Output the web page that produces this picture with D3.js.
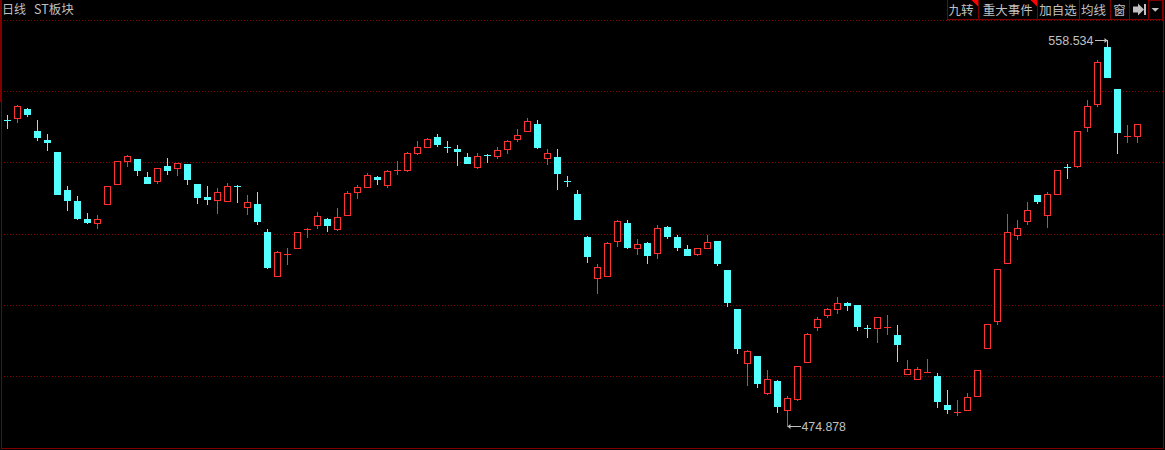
<!DOCTYPE html>
<html>
<head>
<meta charset="utf-8">
<script src="https://cdn.jsdelivr.net/npm/d3@7/dist/d3.min.js"></script>
<style>
html,body{margin:0;padding:0;background:#000;overflow:hidden}
svg{display:block}
</style>
</head>
<body>
<div id="chart"></div>
<script>
const opens = [541.23,541.45,543.61,538.85,536.90,534.31,526.09,523.71,519.82,518.73,
522.84,527.17,532.15,532.79,528.90,527.82,531.28,530.63,531.71,527.39,
524.57,523.71,523.49,526.95,522.20,523.06,517.00,507.27,512.25,513.33,
517.65,518.30,519.82,517.44,520.47,525.44,526.52,528.90,526.95,530.42,
530.20,533.88,535.17,537.55,535.39,534.96,533.23,530.85,533.66,533.23,
534.74,536.90,538.63,540.36,532.79,533.23,528.04,525.22,515.92,506.84,
507.27,514.84,518.95,513.33,514.62,512.25,518.09,515.92,513.33,512.03,
513.33,515.06,508.79,500.35,488.45,490.18,481.96,484.78,478.29,480.67,
488.67,496.24,498.84,500.13,501.65,501.21,496.24,496.02,496.45,494.73,
486.07,484.99,486.72,485.86,479.58,478.07,478.29,481.31,491.70,497.54,
510.08,516.14,519.17,525.01,520.47,525.01,531.06,531.06,539.50,544.47,
557.02,547.94,537.77,537.55];
const closes = [541.22,544.26,542.31,537.34,536.26,525.01,523.71,519.82,518.95,519.82,
526.95,532.36,533.44,530.20,527.39,530.85,530.20,531.93,528.25,524.36,
523.93,525.66,526.95,526.94,523.49,519.17,509.22,512.68,512.25,517.00,
517.65,520.47,518.30,520.25,525.44,526.74,529.33,528.25,530.20,530.42,
534.09,535.39,537.12,535.82,535.38,534.31,531.71,533.44,533.65,534.74,
536.69,537.99,541.01,535.17,534.09,529.55,528.03,519.60,511.60,509.43,
514.62,519.38,513.54,514.41,511.81,517.87,515.92,513.54,511.81,513.54,
514.84,510.08,501.65,491.70,491.26,484.13,485.21,479.15,481.10,488.02,
494.94,498.19,500.35,501.65,501.00,496.45,496.23,498.62,496.45,492.56,
487.37,487.37,486.72,480.23,478.50,478.07,481.31,487.16,497.10,509.00,
517.00,517.87,521.76,523.49,525.22,530.42,531.05,538.85,544.26,553.78,
550.31,538.42,537.77,540.36];
const highs = [542.31,544.47,543.83,541.23,538.20,534.31,526.95,524.79,521.11,520.68,
526.95,532.36,533.66,532.79,529.98,530.85,533.01,531.93,531.71,527.39,
526.95,526.52,527.60,527.17,525.01,525.66,517.65,512.89,513.54,517.00,
517.87,521.33,520.03,522.20,525.87,527.17,529.77,529.12,530.42,532.36,
534.31,536.69,537.34,538.20,536.69,535.82,534.09,534.09,533.88,535.39,
536.90,539.28,541.66,541.23,534.96,534.96,529.12,526.09,516.14,510.08,
514.84,519.60,519.60,515.49,514.84,518.52,518.30,516.35,514.19,513.54,
516.35,515.06,508.79,500.35,491.48,490.18,487.16,484.99,481.53,488.02,
495.16,498.62,500.57,502.95,501.86,501.21,496.88,498.62,499.05,496.88,
489.32,487.80,489.53,486.51,482.83,480.67,482.18,487.16,497.10,509.00,
520.90,519.60,523.49,525.01,525.66,530.42,531.71,538.85,545.56,554.21,
558.534,547.94,540.15,540.36];
const lows = [539.28,540.58,541.88,536.69,534.52,525.01,521.55,519.60,518.73,517.65,
522.84,527.17,531.06,529.12,527.39,527.39,529.33,529.12,527.17,523.06,
522.84,520.90,523.49,523.28,520.68,518.52,509.00,507.27,509.87,513.33,
515.71,517.65,517.00,517.22,520.47,524.14,526.52,527.17,526.52,529.33,
529.98,533.66,535.17,535.39,534.09,531.28,531.71,530.63,531.93,532.79,
533.88,536.47,538.63,534.96,531.50,526.09,526.74,519.60,510.30,503.59,
507.27,513.76,513.33,512.03,510.08,511.16,515.49,512.89,511.81,511.81,
513.33,509.65,500.78,490.62,483.69,483.26,481.75,477.85,474.878,480.45,
488.67,495.59,498.40,499.27,499.92,495.59,494.08,493.00,494.73,488.89,
486.07,484.99,486.72,478.93,477.64,477.21,478.29,481.31,491.70,496.88,
510.08,515.27,518.52,523.06,517.87,525.01,528.47,530.85,538.63,544.04,
550.31,533.88,536.26,536.26];
const gridValues = [562.86,547.50,532.15,516.57,501.21,485.86];
const toolbarLabels = ["九转","重大事件","加自选","均线","窗"];
const toolbarCenters = [961,1007.7,1058,1093.5,1119.5];
const titleLeft = "日线";
const titleName = "ST板块";
const highLabel = "558.534";
const lowLabel = "474.878";

const W = 1165, H = 450;
const RED = "#ff3232", CYAN = "#54ffff", GRID = "#8a0000", FRAME = "#800000", TEXT = "#c0c0c0";
const CN = "'Noto Sans CJK SC','Noto Sans',sans-serif";
const LAT = "'Liberation Sans',Arial,sans-serif";

const x = d3.scaleLinear().domain([0, opens.length - 1]).range([7.5, 1137.5]);
const y = d3.scaleLinear().domain([474.878, 558.534]).range([426.74, 40]);

const svg = d3.select("#chart").append("svg").attr("width", W).attr("height", H)
  .style("background", "#000");

// grid
svg.append("g").attr("shape-rendering", "crispEdges").selectAll("line").data(gridValues).join("line")
  .attr("x1", 4).attr("x2", 1163)
  .attr("y1", d => Math.round(y(d)) + .5).attr("y2", d => Math.round(y(d)) + .5)
  .attr("stroke", GRID).attr("stroke-width", 1).attr("stroke-dasharray", "1 2");

// frame
const frame = svg.append("g").attr("shape-rendering", "crispEdges").attr("fill", FRAME);
frame.append("rect").attr("x", 1).attr("y", 0).attr("width", 1).attr("height", 449);
frame.append("rect").attr("x", 0).attr("y", 0).attr("width", 2).attr("height", 102);
frame.append("rect").attr("x", 1).attr("y", 448).attr("width", 1163).attr("height", 1);
frame.append("rect").attr("x", 1163).attr("y", 0).attr("width", 1).attr("height", 449);

// candles
const candles = d3.range(opens.length).map(i => ({
  i, o: opens[i], c: closes[i], h: highs[i], l: lows[i], up: closes[i] >= opens[i]
}));
const g = svg.append("g").attr("shape-rendering", "crispEdges");
candles.forEach(d => {
  const cx = x(d.i);
  const col = d.up ? RED : CYAN;
  const top = Math.round(y(Math.max(d.o, d.c)));
  const bot = Math.round(y(Math.min(d.o, d.c)));
  const hy = Math.round(y(d.h)), ly = Math.round(y(d.l));
  const wick = (a, b) => { if (b > a) g.append("line").attr("x1", cx).attr("x2", cx).attr("y1", a).attr("y2", b).attr("stroke", col); };
  wick(hy, top); wick(bot, ly);
  if (bot - top < 2) {
    g.append("rect").attr("x", cx - 3.5).attr("y", top).attr("width", 7).attr("height", 1).attr("fill", col);
    wick(top, bot + 1);
  } else if (d.up) {
    g.append("rect").attr("x", cx - 3).attr("y", top + .5).attr("width", 6).attr("height", bot - top - 1)
      .attr("fill", "#000").attr("stroke", col);
  } else {
    g.append("rect").attr("x", cx - 3.5).attr("y", top).attr("width", 7).attr("height", bot - top).attr("fill", col);
  }
});

// high / low annotations
const hiIdx = highs.indexOf(d3.max(highs)), loIdx = lows.indexOf(d3.min(lows));
const hx = x(hiIdx), hyy = Math.round(y(highs[hiIdx])) + .5;
const lx = x(loIdx), lyy = Math.round(y(lows[loIdx])) - .5;
const ann = svg.append("g");
ann.append("line").attr("x1", hx - 13).attr("x2", hx).attr("y1", hyy).attr("y2", hyy).attr("stroke", TEXT).attr("shape-rendering", "crispEdges");
ann.append("path").attr("d", `M${hx},${hyy}l-3,-2.5v5z`).attr("fill", TEXT);
ann.append("text").attr("x", hx - 14).attr("y", hyy + 4.5).attr("text-anchor", "end")
  .attr("font-family", LAT).attr("font-size", 12.5).attr("fill", TEXT).text(highLabel);
ann.append("line").attr("x1", lx).attr("x2", lx + 13).attr("y1", lyy).attr("y2", lyy).attr("stroke", TEXT).attr("shape-rendering", "crispEdges");
ann.append("path").attr("d", `M${lx},${lyy}l3,-2.5v5z`).attr("fill", TEXT);
ann.append("text").attr("x", lx + 14).attr("y", lyy + 4.5)
  .attr("font-family", LAT).attr("font-size", 12.3).attr("fill", TEXT).text(lowLabel);

// title
const t = svg.append("g").attr("fill", TEXT);
t.append("text").attr("x", 2).attr("y", 14).attr("font-family", CN).attr("font-size", 12).text(titleLeft);
t.append("text").attr("x", 34).attr("y", 14).attr("font-family", CN).attr("font-size", 12.5).text(titleName);

// toolbar
const seps = [947, 978, 1037, 1079, 1110, 1129, 1148, 1162];
const tb = svg.append("g");
const tbl = tb.append("g").attr("shape-rendering", "crispEdges").attr("fill", FRAME);
seps.forEach(s => tbl.append("rect").attr("x", s).attr("y", 0).attr("width", 1).attr("height", 20));
tbl.append("rect").attr("x", 947).attr("y", 19).attr("width", 217).attr("height", 1);
tbl.append("rect").attr("x", 1148).attr("y", 0).attr("width", 15).attr("height", 1);
toolbarLabels.forEach((s, i) => {
  tb.append("text").attr("x", toolbarCenters[i]).attr("y", 15).attr("text-anchor", "middle")
    .attr("font-family", CN).attr("font-size", 12.5).attr("fill", TEXT).text(s);
});
[978, 1037].forEach(s => tb.append("path").attr("d", `M${s},0h-6.5l6.5,6.5z`).attr("fill", "#ff0000"));
tb.append("path").attr("d", "M1133,6.5h5v-3l6,6l-6,6v-3h-5z M1144,4h2v11h-2z").attr("fill", TEXT);
tb.append("path").attr("d", "M1151.5,8h7.5l-3.75,3.8z").attr("fill", TEXT);
</script>
</body>
</html>
